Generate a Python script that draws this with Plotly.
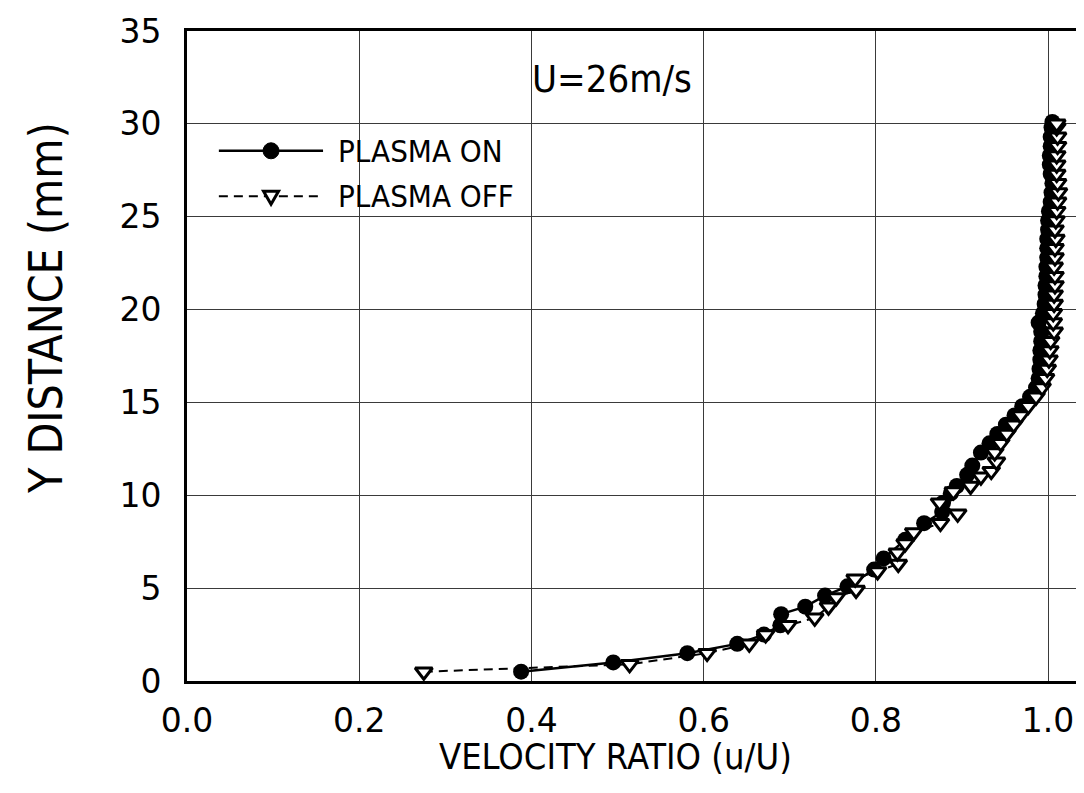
import plotly.graph_objects as go

# ---- data ----
on_y = [0.5, 1.0, 1.5, 2.0, 2.5, 3.0, 3.6, 4.0, 4.6, 5.1, 6.0, 6.6, 7.6, 8.5, 9.1,
        9.6, 10.1, 10.5, 11.1, 11.6, 12.3, 12.8, 13.3, 13.8, 14.3, 14.8, 15.3, 15.8,
        16.3, 16.8, 17.3, 17.8, 18.3, 18.8, 19.3, 19.8, 20.3, 20.8, 21.3, 21.8, 22.3,
        22.8, 23.3, 23.8, 24.3, 24.8, 25.3, 25.8, 26.3, 26.8, 27.3, 27.8, 28.3, 28.8,
        29.3, 29.8, 30.1]
on_u = [0.388, 0.495, 0.581, 0.639, 0.670, 0.689, 0.690, 0.718, 0.741, 0.767, 0.798,
        0.809, 0.834, 0.856, 0.877, 0.878, 0.887, 0.894, 0.906, 0.912, 0.922, 0.932,
        0.941, 0.951, 0.961, 0.970, 0.979, 0.986, 0.989, 0.990, 0.991, 0.991, 0.992,
        0.992, 0.989, 0.994, 0.996, 0.997, 0.997, 0.998, 0.998, 0.999, 0.999, 0.999,
        1.000, 1.000, 1.001, 1.003, 1.004, 1.005, 1.003, 1.002, 1.002, 1.003, 1.003,
        1.004, 1.005]

off_y = [0.5, 0.9, 1.5, 2.0, 2.5, 3.0, 3.4, 4.0, 4.5, 4.9, 5.5, 5.9, 6.3, 6.9, 7.4,
         8.0, 8.5, 9.0, 9.6, 10.2, 10.5, 11.0, 11.3, 11.8, 12.3, 12.8, 13.3, 13.8,
         14.3, 14.8, 15.3, 15.8, 16.3, 16.8, 17.3, 17.8, 18.3, 18.8, 19.3, 19.8, 20.3,
         20.8, 21.3, 21.8, 22.3, 22.8, 23.3, 23.8, 24.3, 24.8, 25.3, 25.8, 26.3, 26.8,
         27.3, 27.8, 28.3, 28.8, 29.3, 29.8, 30.0]
off_u = [0.275, 0.514, 0.604, 0.653, 0.672, 0.698, 0.729, 0.745, 0.754, 0.777, 0.776,
         0.802, 0.826, 0.825, 0.834, 0.844, 0.875, 0.895, 0.874, 0.890, 0.910, 0.922,
         0.934, 0.940, 0.938, 0.945, 0.952, 0.960, 0.968, 0.977, 0.986, 0.993, 0.997,
         0.999, 1.001, 1.002, 1.003, 1.007, 1.006, 1.006, 1.007, 1.007, 1.008, 1.008,
         1.007, 1.008, 1.008, 1.009, 1.008, 1.009, 1.010, 1.011, 1.012, 1.011, 1.010,
         1.010, 1.010, 1.011, 1.011, 1.010, 1.010]

x_ticks = [0.0, 0.2, 0.4, 0.6, 0.8, 1.0]
x_tick_labels = ["0.0", "0.2", "0.4", "0.6", "0.8", "1.0"]
y_ticks = [0, 5, 10, 15, 20, 25, 30, 35]
y_tick_labels = ["0", "5", "10", "15", "20", "25", "30", "35"]

series_names = ["PLASMA ON", "PLASMA OFF"]
annotation_text = "U=26m/s"
x_title = "VELOCITY RATIO (u/U)"
y_title = "Y DISTANCE (mm)"

NARROW = "DejaVu Sans Condensed, Liberation Sans Narrow, Arial Narrow, sans-serif"
TICKFONT = "DejaVu Sans, Verdana, sans-serif"

fig = go.Figure()

fig.add_trace(go.Scatter(
    x=on_u, y=on_y, mode="lines+markers", name=series_names[0],
    line=dict(color="black", width=2.5),
    marker=dict(symbol="circle", size=16, color="black", line=dict(color="black", width=0)),
    showlegend=False, cliponaxis=False,
))
fig.add_trace(go.Scatter(
    x=off_u, y=off_y, mode="lines+markers", name=series_names[1],
    line=dict(color="black", width=2, dash="9px,6px"),
    marker=dict(symbol="triangle-down", size=15, color="white",
                line=dict(color="black", width=3)),
    showlegend=False, cliponaxis=False,
))

# ---- hand-made legend (line sample + marker + text) ----
leg_x0, leg_x1, leg_xm, leg_xt = 0.037, 0.158, 0.0976, 0.173
leg_on_y, leg_off_y = 28.55, 26.1
shapes = [
    dict(type="line", xref="x", yref="y", x0=leg_x0, x1=leg_x1, y0=leg_on_y, y1=leg_on_y,
         line=dict(color="black", width=2.5)),
    dict(type="line", xref="x", yref="y", x0=leg_x0, x1=leg_x1, y0=leg_off_y, y1=leg_off_y,
         line=dict(color="black", width=2, dash="9px,6px")),
    dict(type="circle", xref="x", yref="y", xsizemode="pixel", ysizemode="pixel",
         xanchor=leg_xm, yanchor=leg_on_y, x0=-8, x1=8, y0=-8, y1=8,
         fillcolor="black", line=dict(color="black", width=1)),
    dict(type="path", xref="x", yref="y", xsizemode="pixel", ysizemode="pixel",
         xanchor=leg_xm, yanchor=leg_off_y, path="M -7.5,5 L 7.5,5 L 0,-8 Z",
         fillcolor="white", line=dict(color="black", width=3)),
]

annotations = [
    dict(x=leg_xt, y=leg_on_y, xref="x", yref="y", text=series_names[0], showarrow=False,
         xanchor="left", yanchor="middle", font=dict(family=NARROW, size=31, color="black")),
    dict(x=leg_xt, y=leg_off_y, xref="x", yref="y", text=series_names[1], showarrow=False,
         xanchor="left", yanchor="middle", font=dict(family=NARROW, size=31, color="black")),
    dict(x=0.398, y=32.4, xref="x", yref="y", text=annotation_text, showarrow=False,
         xanchor="left", yanchor="middle", font=dict(family=NARROW, size=38, color="black")),
    # axis titles
    dict(x=(607 - 179) / 905, y=-(748 - 673) / 650, xref="paper", yref="paper",
         text=x_title, showarrow=False, xanchor="center", yanchor="middle",
         font=dict(family=NARROW, size=36, color="black")),
    dict(x=-(179 - 38) / 905, y=(673 - 300) / 650, xref="paper", yref="paper",
         text=y_title, showarrow=False, xanchor="center", yanchor="middle", textangle=-90,
         font=dict(family=NARROW, size=46, color="black")),
]

fig.update_layout(
    width=1084, height=793,
    margin=dict(l=179, r=0, t=23, b=120),
    paper_bgcolor="white", plot_bgcolor="white",
    shapes=shapes, annotations=annotations,
    showlegend=False,
)

fig.update_xaxes(
    range=[0, 1.051], tickvals=x_ticks, ticktext=x_tick_labels,
    showgrid=True, gridcolor="#3a3a3a", gridwidth=1,
    showline=True, linecolor="black", linewidth=3, mirror=True,
    zeroline=False, ticks="", ticklabelstandoff=8,
    tickfont=dict(family=TICKFONT, size=33, color="black"),
)
fig.update_yaxes(
    range=[0, 35], tickvals=y_ticks, ticktext=y_tick_labels,
    showgrid=True, gridcolor="#3a3a3a", gridwidth=1,
    showline=True, linecolor="black", linewidth=3, mirror=False,
    zeroline=False, ticks="", ticklabelstandoff=16,
    tickfont=dict(family=TICKFONT, size=33, color="black"),
)

fig.write_html("out.html")
